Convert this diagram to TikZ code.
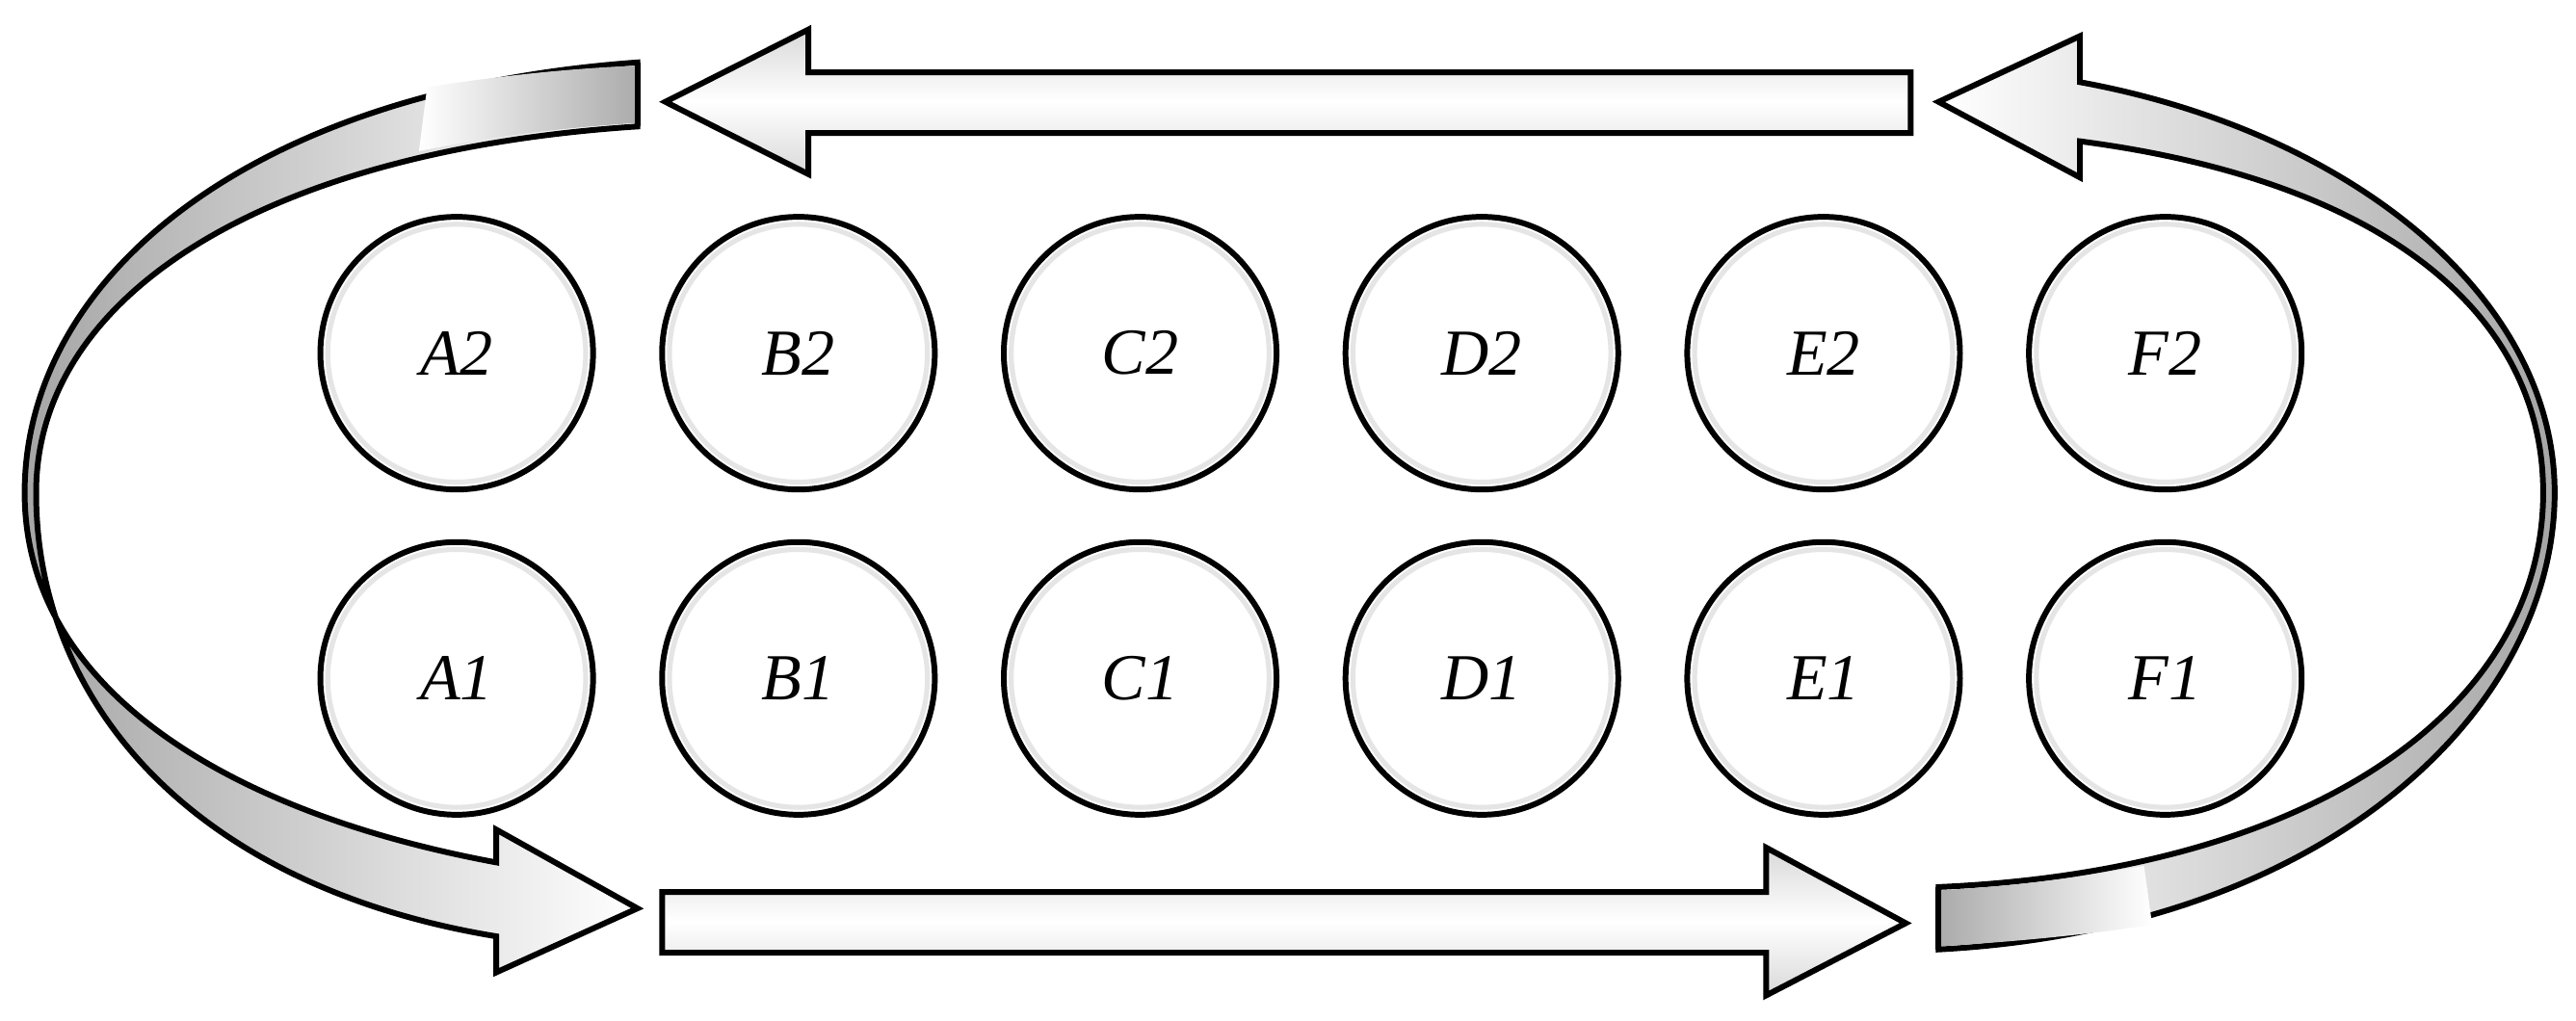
\documentclass[tikz,border=0pt]{standalone}
\usepackage{fontspec}
\setmainfont{Liberation Serif}
\begin{document}
\begin{tikzpicture}[x=1pt,y=-1pt,
  well/.style={circle,draw=black,line width=3.5pt,minimum size=166pt,inner sep=0pt,
    fill=white,font=\fontsize{40}{48}\selectfont\itshape},
  arr/.style={draw=black,line width=3.5pt,line join=miter},
  barfill/.style={top color=gray!30,bottom color=gray!30,middle color=white}]
\useasboundingbox (0,0) rectangle (1568,621);
\foreach \l/\x in {A/278,B/486,C/694,D/902,E/1110,F/1318}{
  \node[well] (\l2) at (\x,215) {\l2};
  \node[well] (\l1) at (\x,413) {\l1};
  \draw[gray!20,line width=3pt] (\l2.center) circle (78.5);
  \draw[gray!20,line width=3pt] (\l1.center) circle (78.5);
}
% top straight arrow
\path[arr,barfill] (1163,44) -- (1163,81) -- (492,81) -- (492,106) -- (405,62) -- (492,18) -- (492,44) -- cycle;
% bottom straight arrow
\path[arr,barfill] (403,543) -- (1075,543) -- (1075,516) -- (1160,562) -- (1075,606) -- (1075,580) -- (403,580) -- cycle;
% left curved arrow
\path[arr,left color=gray!70,right color=white] (388,38) .. controls (150,55) and (15,170) .. (15,300)
  .. controls (15,420) and (140,495) .. (302,525) -- (302,505) -- (388,553) -- (302,592) -- (302,570)
  .. controls (120,540) and (22,430) .. (22,300)
  .. controls (22,180) and (160,92) .. (388,77) -- cycle;
\shade[left color=white,right color=gray!65] (260,53) .. controls (300,47) and (340,42) .. (387,40) -- (386,75) .. controls (340,78) and (300,83) .. (255,92) -- cycle;
\draw[arr] (388,38) -- (388,77);
% right curved arrow
\path[arr,left color=white,right color=gray!70] (1180,578) .. controls (1420,565) and (1555,430) .. (1555,300)
  .. controls (1555,180) and (1430,80) .. (1266,50) -- (1266,22) -- (1180,62) -- (1266,108) -- (1266,86)
  .. controls (1450,110) and (1548,190) .. (1548,300)
  .. controls (1548,430) and (1410,530) .. (1180,540) -- cycle;
\shade[left color=gray!65,right color=white] (1182,576) .. controls (1230,573) and (1270,569) .. (1310,563) -- (1305,527) .. controls (1270,534) and (1230,539) .. (1182,542) -- cycle;
\draw[arr] (1180,578) -- (1180,540);
\end{tikzpicture}
\end{document}
